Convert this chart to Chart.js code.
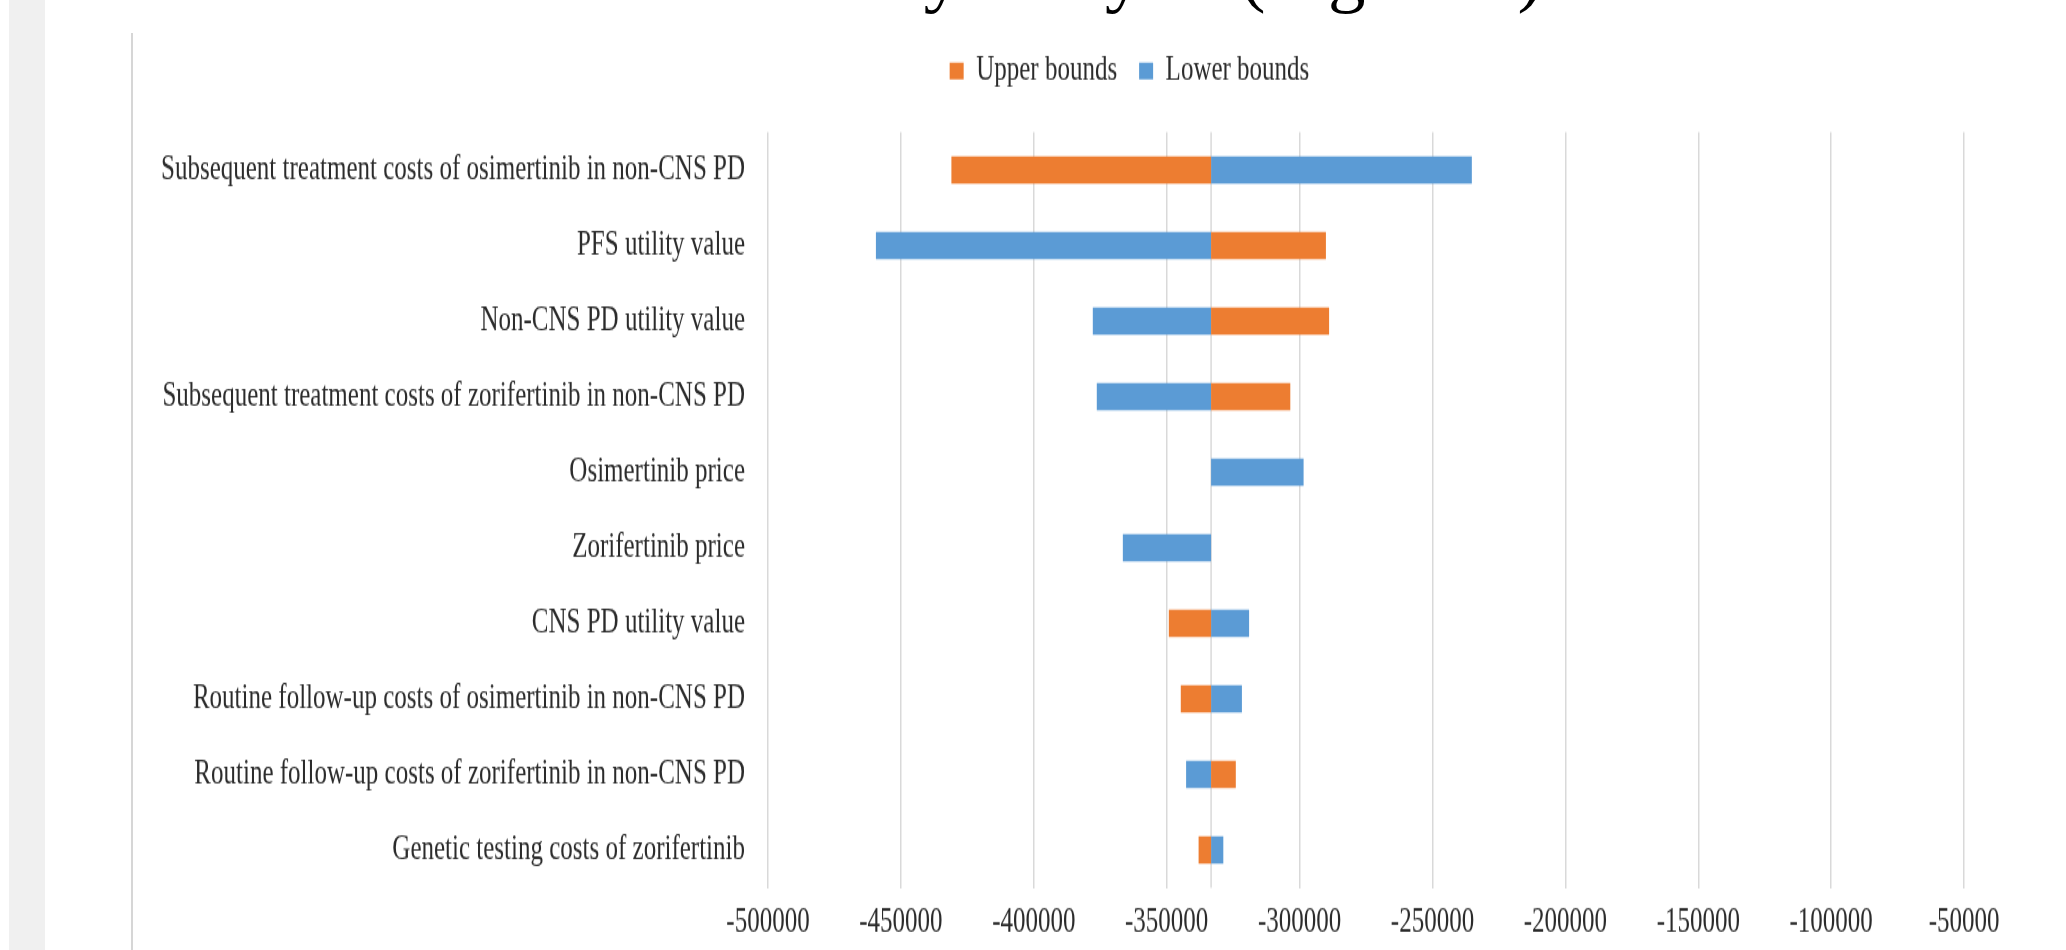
<!DOCTYPE html>
<html>
<head>
<meta charset="utf-8">
<title>One-way sensitivity analysis</title>
<script src="https://cdn.jsdelivr.net/npm/chart.js@4.4.0/dist/chart.umd.min.js"></script>
<style>
  html, body { margin: 0; padding: 0; background: #fff; overflow: hidden; }
  body { width: 2066px; height: 950px; position: relative; }
  .strip { position: absolute; left: 9px; top: 0; width: 36px; height: 950px; background: #f0f0f0; }
  .frame { position: absolute; left: 131px; top: 33px; height: 917px; border-left: 2px solid #d6d6d6; }
  .heading { position: absolute; left: 653px; top: -65px; font: 75px/1 "Liberation Serif", serif; color: #000; white-space: nowrap; }
  /* the figure is drawn squat and stretched vertically, like the exported image */
  .wrap { position: absolute; left: 0; top: 0; width: 2200px; height: 679px; transform: scaleY(1.3991); transform-origin: 0 0; }
</style>
</head>
<body>
<div class="strip"></div>
<div class="frame"></div>
<div class="heading">sensitivity analysis (Figure 3)</div>
<div class="wrap"><canvas id="chart"></canvas></div>

<script>

    var categories = [
        'Subsequent treatment costs of osimertinib in non-CNS PD',
        'PFS utility value',
        'Non-CNS PD utility value',
        'Subsequent treatment costs of zorifertinib in non-CNS PD',
        'Osimertinib price',
        'Zorifertinib price',
        'CNS PD utility value',
        'Routine follow-up costs of osimertinib in non-CNS PD',
        'Routine follow-up costs of zorifertinib in non-CNS PD',
        'Genetic testing costs of zorifertinib'
    ];

    // base-case ICER, every bar starts here
    var baseIcer = -333300;

    // ICER at the upper / lower end of each parameter range
    var upperBounds = [-431000, -290100, -288900, -303500, null, null, -349200, -344700, -324000, -338000];
    var lowerBounds = [-235200, -459400, -377800, -376300, -298500, -366500, -319000, -321700, -342700, -328700];

    var xMin = -500000;
    var xMax = 0;
    var xStep = 50000;

    var serif = '"Liberation Serif", "Times New Roman", serif';
    var textColor = '#2b2b2b';

    function fromBase(arr) {
        return arr.map(function (v) { return v === null ? null : [baseIcer, v]; });
    }

    // vertical line at the base case, where the bars meet
    var baseLine = {
        id: 'baseLine',
        beforeDatasetsDraw: function (chart) {
            var ctx = chart.ctx, area = chart.chartArea;
            var x = chart.scales.x.getPixelForValue(baseIcer);
            ctx.save();
            ctx.strokeStyle = '#d9d9d9';
            ctx.lineWidth = 1.5;
            ctx.beginPath();
            ctx.moveTo(x, area.top);
            ctx.lineTo(x, area.bottom);
            ctx.stroke();
            ctx.restore();
        }
    };

    // legend: extra gap below it and nudged right over the bars
    var legendPlace = {
        id: 'legendPlace',
        beforeInit: function (chart) {
            var fit = chart.legend.fit;
            chart.legend.fit = function () {
                fit.call(this);
                this.height += 21.2;
            };
        },
        afterLayout: function (chart) {
            chart.legend.left += 31;
            chart.legend.right += 31;
        }
    };

    var ctx = document.getElementById('chart');
    new Chart(ctx, {
        type: 'bar',
        data: {
            labels: categories,
            datasets: [{
                label: 'Upper bounds',
                data: fromBase(upperBounds),
                backgroundColor: '#ED7D31',
                barPercentage: 1,
                categoryPercentage: 0.357
            }, {
                label: 'Lower bounds',
                data: fromBase(lowerBounds),
                backgroundColor: '#5B9BD5',
                barPercentage: 1,
                categoryPercentage: 0.357
            }]
        },
        options: {
            indexAxis: 'y',
            responsive: true,
            maintainAspectRatio: false,
            animation: false,
            layout: {
                padding: { left: 100, right: 103, top: 16.3, bottom: 0 }
            },
            scales: {
                x: {
                    min: xMin,
                    max: xMax,
                    grid: { color: '#d9d9d9', lineWidth: 1.5, drawTicks: false },
                    border: { display: false },
                    ticks: {
                        stepSize: xStep,
                        padding: 10,
                        autoSkip: false,
                        maxRotation: 0,
                        color: textColor,
                        font: { family: serif, size: 25 },
                        callback: function (v) { return String(v); }
                    },
                    afterFit: function (s) {
                        s.height = 44.5;
                        s.paddingLeft = 0;
                        s.paddingRight = 0;
                    }
                },
                y: {
                    stacked: true,
                    grid: { display: false, drawTicks: false },
                    border: { display: false },
                    ticks: {
                        padding: 23,
                        color: textColor,
                        font: { family: serif, size: 25 }
                    },
                    afterFit: function (s) {
                        s.width = 668;
                        s.paddingTop = 0;
                        s.paddingBottom = 0;
                    }
                }
            },
            plugins: {
                legend: {
                    position: 'top',
                    labels: {
                        boxWidth: 14,
                        boxHeight: 12,
                        padding: 22,
                        color: textColor,
                        font: { family: serif, size: 25 }
                    }
                },
                tooltip: { enabled: false }
            }
        },
        plugins: [baseLine, legendPlace]
    });

</script>
</body>
</html>
